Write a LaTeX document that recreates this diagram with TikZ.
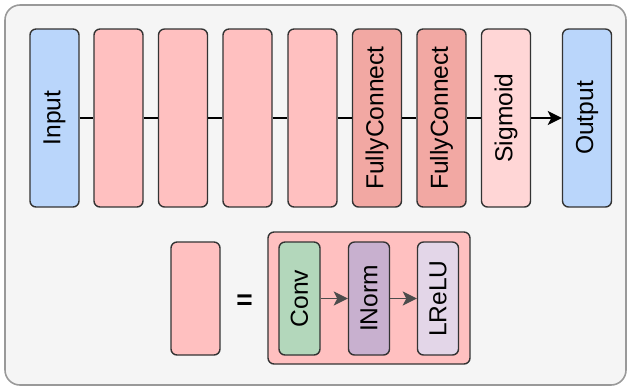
\documentclass[tikz,border=0pt]{standalone}
\usepackage{fontspec}
\setmainfont{Liberation Sans}
\usepackage{xcolor}
\usetikzlibrary{arrows.meta}
\usetikzlibrary{positioning}

\definecolor{inblue}{HTML}{BAD6FB}
\definecolor{blockpink}{HTML}{FFC0C0}
\definecolor{fcred}{HTML}{F2A8A3}
\definecolor{sigpink}{HTML}{FFD6D6}
\definecolor{convgreen}{HTML}{B3D7BB}
\definecolor{normpurple}{HTML}{C8B0CF}
\definecolor{relulilac}{HTML}{E3D6E8}
\definecolor{framegray}{HTML}{F5F5F5}

\tikzset{
  mylayer/.style={
    draw=black!80,
    shape=rectangle,
    line width=0.8pt,
    rounded corners=0.12cm,
    minimum width=0.98cm,
    minimum height=3.56cm,
    inner sep=0pt,
    align=center,
    font=\fontsize{14}{16}\selectfont
  },
  mysublayer/.style={
    mylayer,
    minimum width=0.82cm,
    minimum height=2.26cm,
    font=\fontsize{14}{16}\selectfont
  },
  myline/.style={
    draw=black,
    line width=0.8pt
  },
  myarrow/.style={
    draw=black!70,
    line width=0.8pt,
    -{Stealth[length=8pt,width=8pt,inset=2pt]}
  }
}

\begin{document}
\begin{tikzpicture}[x=0.02cm, y=-0.02cm]
    \useasboundingbox (0,0) rectangle (628,387);
    \draw [draw=black!40, fill=framegray, line width=0.9pt, rounded corners=0.3cm]
        (5,5) rectangle (626,385);

    % main network
    \node [mylayer, fill=inblue] (Input) at (54.5,118) {\rotatebox{90}{Input}};
    \node [mylayer, fill=blockpink] (Blk1) at (118.5,118) {};
    \node [mylayer, fill=blockpink] (Blk2) at (183,118) {};
    \node [mylayer, fill=blockpink] (Blk3) at (247.5,118) {};
    \node [mylayer, fill=blockpink] (Blk4) at (312.5,118) {};
    \node [mylayer, fill=fcred] (FC1) at (377,118) {\rotatebox{90}{FullyConnect}};
    \node [mylayer, fill=fcred] (FC2) at (441.5,118) {\rotatebox{90}{FullyConnect}};
    \node [mylayer, fill=sigpink] (Sigmoid) at (506,118) {\rotatebox{90}{Sigmoid}};
    \node [mylayer, fill=inblue] (Output) at (587,118) {\rotatebox{90}{Output}};

    \draw [myline] (Input) -- (Blk1);
    \draw [myline] (Blk1) -- (Blk2);
    \draw [myline] (Blk2) -- (Blk3);
    \draw [myline] (Blk3) -- (Blk4);
    \draw [myline] (Blk4) -- (FC1);
    \draw [myline] (FC1) -- (FC2);
    \draw [myline] (FC2) -- (Sigmoid);
    \draw [myarrow, draw=black] (Sigmoid) -- (Output);

    % legend: one block
    \node [mylayer, fill=blockpink, minimum height=2.26cm] (Blk) at (195.5,298.5) {};
    \node [font=\fontsize{16}{18}\selectfont\bfseries, inner sep=0pt] (Eq) at (244.5,302) {=};
    \node [mylayer, fill=blockpink, minimum width=4.04cm, minimum height=2.64cm] (Group) at (369,298) {};
    \node [mysublayer, fill=convgreen] (Conv) at (299.5,298.5) {\rotatebox{90}{Conv}};
    \node [mysublayer, fill=normpurple] (INorm) at (369,298.5) {\rotatebox{90}{INorm}};
    \node [mysublayer, fill=relulilac] (LReLU) at (438,298.5) {\rotatebox{90}{LReLU}};

    \draw [myarrow] (Conv) -- (INorm);
    \draw [myarrow] (INorm) -- (LReLU);

\end{tikzpicture}
\end{document}
